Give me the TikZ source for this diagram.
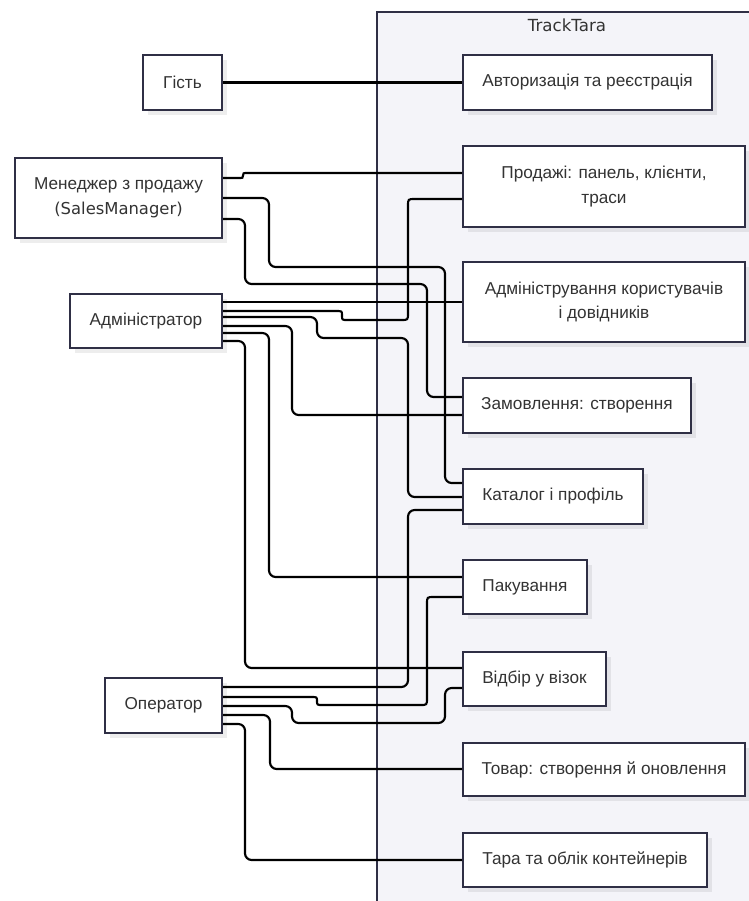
\documentclass[tikz,border=0pt]{standalone}
\usepackage{fontspec}
\setmainfont{Liberation Sans}
\newfontfamily\dejavu{DejaVu Sans}
\usetikzlibrary{shadows}

\definecolor{frame}{HTML}{2F2F45}
\definecolor{sysfill}{HTML}{F4F4F9}
\definecolor{ink}{HTML}{333333}

\tikzset{
  sz/.style 2 args={minimum width=#1*0.75pt, minimum height=#2*0.75pt},
  box/.style={draw=frame, line width=1.5pt, fill=white, inner sep=0pt,
    align=center, text=ink, font=\fontsize{12.9}{18.5}\selectfont,
    drop shadow={fill=black, opacity=0.07, shadow xshift=4pt, shadow yshift=-4pt}},
  link/.style={draw=black, line width=1.6pt, rounded corners=5pt},
  % paths with small S-bends are drawn with explicit curves
  bent/.style={draw=black, line width=1.6pt, sharp corners},
}

\begin{document}
\begin{tikzpicture}[x=0.75pt, y=-0.75pt]
  \useasboundingbox (0,0) rectangle (749,901);

  % system boundary
  \node[draw=frame, line width=1.5pt, fill=sysfill, sz={390}{900}, anchor=north west, inner sep=0pt] (sys) at (376,11) {};
  \node[text=ink, font=\dejavu\fontsize{12.5}{14}\selectfont, anchor=center] (title) at (567,25) {TrackTara};

  % actors
  \node[box, sz={79}{55}]  (guest) at (182.5,82.5) {Гість};
  \node[box, sz={207}{80}] (mgr)   at (118.5,198) {Менеджер з продажу\\{\dejavu\fontsize{12.3}{18.5}\selectfont (SalesManager)}};
  \node[box, sz={152}{54}] (adm)   at (146,321) {Адміністратор};
  \node[box, sz={117}{55}] (op)    at (163.5,705.5) {Оператор};

  % use cases
  \node[box, sz={249}{55}] (auth)  at (587.5,82.5) {Авторизація та реєстрація};
  \node[box, sz={282}{81}] (sales) at (604,186.5) {Продажі: панель, клієнти,\\траси};
  \node[box, sz={282}{80}] (users) at (604,302) {Адміністрування користувачів\\і довідників};
  \node[box, sz={228}{55}] (order) at (577,405.5) {Замовлення: створення};
  \node[box, sz={180}{55}] (cat)   at (553,496.5) {Каталог і профіль};
  \node[box, sz={124}{54}] (pack)  at (525,587) {Пакування};
  \node[box, sz={143}{54}] (pick)  at (534.5,679) {Відбір у візок};
  \node[box, sz={282}{53}] (prod)  at (604,769.5) {Товар: створення й оновлення};
  \node[box, sz={244}{54}] (tara)  at (585,860) {Тара та облік контейнерів};

  % guest
  \draw[link] (guest.east) -- (auth.west);

  % sales manager
  \draw[bent] (mgr.east |- 0,178) -- (238,178) .. controls (243,178) .. (243,175.5)
      .. controls (243,173) .. (248,173) -- (sales.west |- 0,173);
  \draw[link] (mgr.east |- 0,198) -- (269,198) -- (269,267) -- (445,267) -- (445,483) -- (cat.west |- 0,483);
  \draw[link] (mgr.east |- 0,219) -- (245,219) -- (245,284) -- (427,284) -- (427,397) -- (order.west |- 0,397);

  % administrator
  \draw[link] (adm.east |- 0,302) -- (users.west |- 0,302);
  \draw[bent] (adm.east |- 0,311) -- (336,311) .. controls (342,311) .. (342,315.5)
      .. controls (342,320) .. (348,320) -- (401,320) .. controls (408,320) .. (408,313)
      -- (408,206) .. controls (408,199) .. (415,199) -- (sales.west |- 0,199);
  \draw[link] (adm.east |- 0,317) -- (317,317) -- (317,338) -- (408,338) -- (408,497) -- (cat.west |- 0,497);
  \draw[link] (adm.east |- 0,326) -- (292,326) -- (292,415) -- (order.west |- 0,415);
  \draw[link] (adm.east |- 0,333) -- (269,333) -- (269,577) -- (pack.west |- 0,577);
  \draw[link] (adm.east |- 0,341) -- (245,341) -- (245,668) -- (pick.west |- 0,668);

  % operator
  \draw[link] (op.east |- 0,687) -- (408,687) -- (408,510) -- (cat.west |- 0,510);
  \draw[bent] (op.east |- 0,697) -- (311,697) .. controls (317,697) .. (317,701)
      .. controls (317,705) .. (323,705) -- (420,705) .. controls (427,705) .. (427,698)
      -- (427,604) .. controls (427,597) .. (434,597) -- (pack.west |- 0,597);
  \draw[link] (op.east |- 0,706) -- (292,706) -- (292,723) -- (445,723) -- (445,688) -- (pick.west |- 0,688);
  \draw[link] (op.east |- 0,715) -- (270,715) -- (270,769) -- (prod.west |- 0,769);
  \draw[link] (op.east |- 0,724) -- (245,724) -- (245,860) -- (tara.west |- 0,860);
\end{tikzpicture}
\end{document}
